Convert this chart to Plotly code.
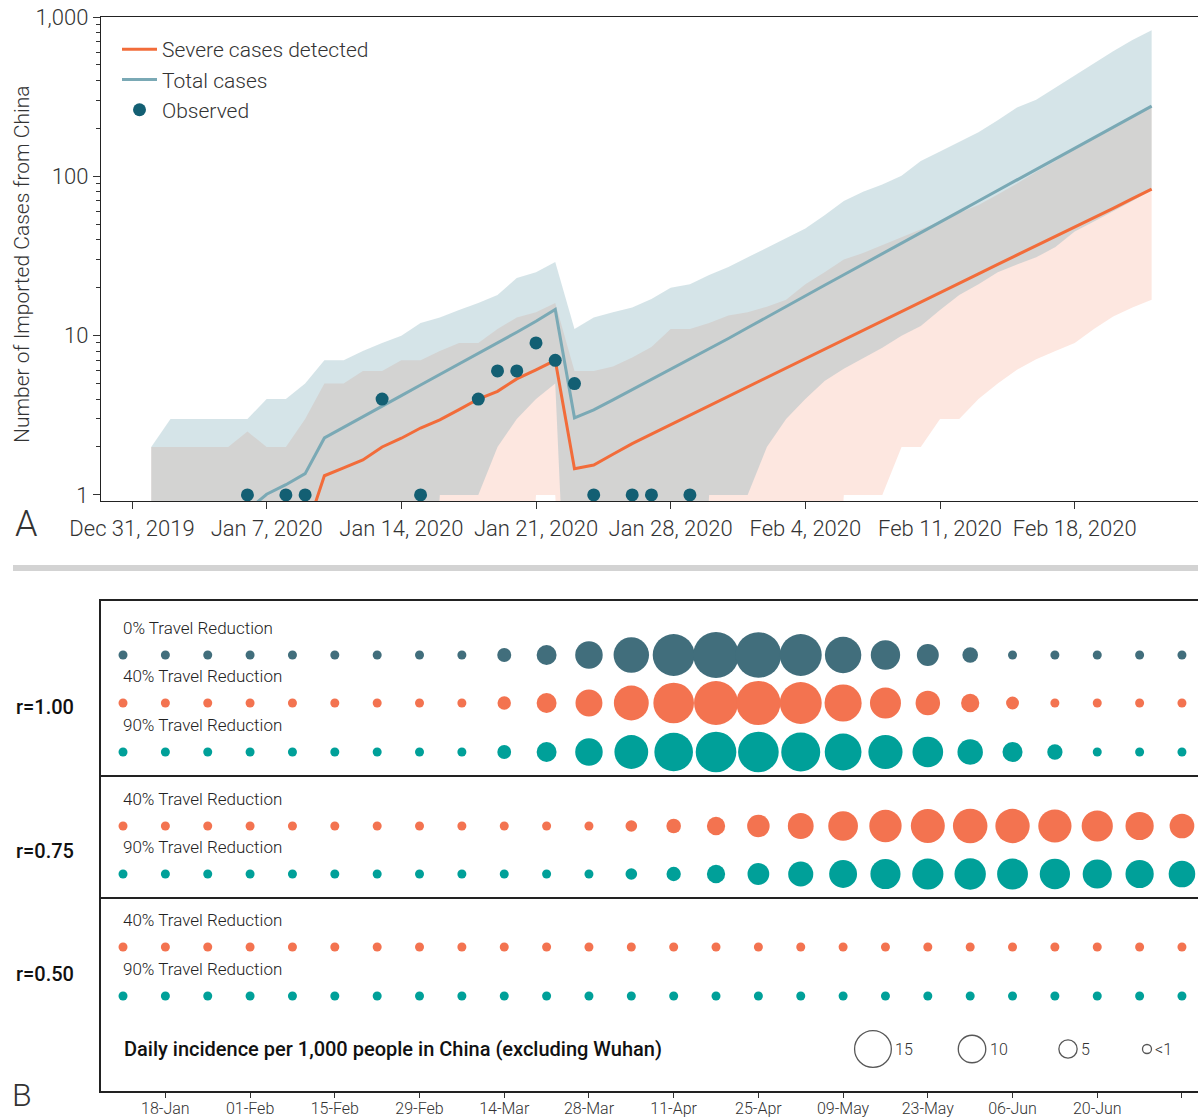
import pandas as pd
import plotly.graph_objects as go

W, H = 1198, 1118
FONT = "Roboto, Liberation Sans, Arial, sans-serif"

# ---------------- Panel A data (daily, Jan 1 .. Feb 22, 2020) ----------------
days_a = pd.date_range("2020-01-01", "2020-02-22", freq="D")

severe_mid = [None] * 8 + [0.57, 1.32, 1.48, 1.66, 2.0, 2.27, 2.63, 2.96, 3.43, 4.0, 4.47, 5.35, 6.1, 7.0,
                           1.46, 1.54, 1.8, 2.1, 2.41, 2.76, 3.16, 3.62, 4.15,
                           4.76, 5.45, 6.25, 7.16, 8.2, 9.4, 10.8, 12.4, 14.2, 16.2, 18.6, 21.3, 24.4,
                           28, 32, 36.7, 42, 48, 55, 63, 72.5, 83]
severe_lo = [0] * 20 + [1, 1] + [0] * 14 + [1, 1, 1, 2, 2, 3, 3, 4, 5, 6.1, 7.1, 8, 9, 11, 13.2, 15, 16.8]
severe_hi = [2, 2, 2, 2, 2, 2.5, 2, 2, 3, 5, 5, 6, 6, 7, 7, 8, 9, 9, 11, 13, 14, 16,
             6, 6, 6.4, 7.3, 8.5, 11, 11, 12, 13.4,
             14, 15.2, 16.8, 21, 25, 30, 33, 37, 41, 46, 52, 59, 66, 77, 90, 107, 125, 150, 175, 204, 237, 276]

total_mid = [None] * 5 + [0.8, 1.01, 1.16, 1.36, 2.28, 2.65, 3.1, 3.6, 4.2, 4.9, 5.7, 6.6, 7.7, 9.0, 10.5, 12.3, 14.6,
                          3.05, 3.42, 3.95, 4.58, 5.3, 6.1, 7.1, 8.3, 9.6,
                          11.2, 13.1, 15.2, 17.7, 20.7, 24.1, 28.0, 32.7, 38, 44.3, 51.6, 60, 70, 81.6,
                          95, 111, 129, 150, 175, 204, 237, 276]
total_lo = [0] * 15 + [1, 1, 1, 2, 3, 4, 5] + [0] * 7 + [1, 1] + \
           [1, 2, 3, 4, 5.2, 6.2, 7.2, 8.4, 10, 11.5, 14.5, 18, 21, 25, 28, 31, 36, 45, 52, 60, 70, 82]
total_hi = [2, 3, 3, 3, 3, 3, 4, 4, 5, 7, 7, 8, 9, 10, 12, 13, 14.5, 16, 18, 23, 25, 29,
            11, 13, 14, 15, 17, 20, 21, 24, 27,
            31, 36, 41, 47, 57, 70, 80, 89, 101, 125, 143, 165, 189, 225, 270, 302, 360, 430, 515, 610, 718, 826]

obs_dates = ["2020-01-06", "2020-01-08", "2020-01-09", "2020-01-13", "2020-01-15", "2020-01-18",
             "2020-01-19", "2020-01-20", "2020-01-21", "2020-01-22", "2020-01-23", "2020-01-24",
             "2020-01-26", "2020-01-27", "2020-01-29"]
obs_vals = [1, 1, 1, 4, 1, 4, 6, 6, 9, 7, 5, 1, 1, 1, 1]

a_ticks = ["2019-12-31", "2020-01-07", "2020-01-14", "2020-01-21", "2020-01-28",
           "2020-02-04", "2020-02-11", "2020-02-18"]
a_yticks = [1, 10, 100, 1000]
a_yticktext = ["1", "10", "100", "1,000"]

# ---------------- Panel B data (weekly, daily incidence per 1,000) ----------------
weeks_b = pd.date_range("2020-01-11", periods=26, freq="7D")

r100_0 = [0] * 9 + [2.7, 5.9, 10, 14.3, 17.8, 19.9, 19.8, 17.8, 14.8, 11, 7, 3.6] + [0] * 5
r100_40 = [0] * 9 + [2.4, 5.9, 9.7, 14, 17.1, 18.9, 19, 17.8, 15.2, 11.9, 8.4, 5, 2.1] + [0] * 4
r100_90 = [0] * 9 + [2.6, 5.9, 10, 13.4, 16, 17.1, 17.1, 16.2, 15, 13.6, 11.7, 8.9, 6, 3.4] + [0] * 3
r075_40 = [0] * 12 + [1.4, 3, 5, 7.3, 9.1, 11.2, 12.6, 13.5, 13.8, 13.7, 13.1, 12, 10.4, 8.5]
r075_90 = [0] * 12 + [1.4, 2.9, 5, 6.9, 8.7, 10.2, 11.4, 12, 12.1, 11.8, 11.5, 10.9, 10.4, 9.5]
r050_40 = [0] * 26
r050_90 = [0] * 26

size_legend_vals = [15, 10, 5, 0]
size_legend_text = ["15", "10", "5", "<1"]

C_SLATE = "#416e7c"
C_ORANGE = "#f37350"
C_TEAL = "#00a099"


def bubble_size(v):
    return 9 + 1.85 * v


def floor0(vals):
    return [None if v is None else (0.01 if v == 0 else v) for v in vals]


def py(y):
    return 1 - y / H


def pxx(x):
    return x / W


fig = go.Figure()

# bands: severe (peach) then total (blue)
fig.add_trace(go.Scatter(x=days_a, y=floor0(severe_lo), mode="lines", line=dict(width=0),
                         showlegend=False, hoverinfo="skip", xaxis="x", yaxis="y"))
fig.add_trace(go.Scatter(x=days_a, y=floor0(severe_hi), mode="lines", line=dict(width=0),
                         fill="tonexty", fillcolor="rgba(245,135,100,0.2)",
                         showlegend=False, hoverinfo="skip", xaxis="x", yaxis="y"))
fig.add_trace(go.Scatter(x=days_a, y=floor0(total_lo), mode="lines", line=dict(width=0),
                         showlegend=False, hoverinfo="skip", xaxis="x", yaxis="y"))
fig.add_trace(go.Scatter(x=days_a, y=floor0(total_hi), mode="lines", line=dict(width=0),
                         fill="tonexty", fillcolor="rgba(115,165,178,0.3)",
                         showlegend=False, hoverinfo="skip", xaxis="x", yaxis="y"))
# lines
fig.add_trace(go.Scatter(x=days_a, y=severe_mid, mode="lines", name="Severe cases detected",
                         line=dict(color="#f26c3a", width=3), xaxis="x", yaxis="y"))
fig.add_trace(go.Scatter(x=days_a, y=total_mid, mode="lines", name="Total cases",
                         line=dict(color="#7aa9b5", width=3), xaxis="x", yaxis="y"))
fig.add_trace(go.Scatter(x=obs_dates, y=obs_vals, mode="markers", name="Observed",
                         marker=dict(color="#135f73", size=13), xaxis="x", yaxis="y"))

# ---------------- Panel B ----------------
rows = [
    (r100_0, C_SLATE, 54, "0% Travel Reduction"),
    (r100_40, C_ORANGE, 102, "40% Travel Reduction"),
    (r100_90, C_TEAL, 151, "90% Travel Reduction"),
    (r075_40, C_ORANGE, 225, "40% Travel Reduction"),
    (r075_90, C_TEAL, 273, "90% Travel Reduction"),
    (r050_40, C_ORANGE, 346, "40% Travel Reduction"),
    (r050_90, C_TEAL, 395, "90% Travel Reduction"),
]
annotations = []
for vals, col, yrow, label in rows:
    fig.add_trace(go.Scatter(x=weeks_b, y=[yrow] * len(vals), mode="markers",
                             marker=dict(color=col, size=[bubble_size(v) for v in vals],
                                         line=dict(width=0), opacity=1),
                             showlegend=False, xaxis="x2", yaxis="y2"))
    annotations.append(dict(text=label, x=pxx(121), xref="paper", xanchor="left",
                            y=yrow - 27, yref="y2", yanchor="middle", showarrow=False,
                            font=dict(family=FONT, size=17, color="#222222", weight=300)))

# size legend
LEG_X = [0.7037, 0.794, 0.8815, 0.9535]
LEG_Y = 448
fig.add_trace(go.Scatter(x=LEG_X, y=[LEG_Y] * 4, mode="markers",
                         marker=dict(color="rgba(255,255,255,0)",
                                     size=[bubble_size(v) for v in size_legend_vals],
                                     line=dict(color="#111111", width=1.3)),
                         showlegend=False, xaxis="x3", yaxis="y2"))
for lx, v, t in zip(LEG_X, size_legend_vals, size_legend_text):
    annotations.append(dict(text=t, x=lx, xref="x3", xanchor="left", xshift=bubble_size(v) / 2 + 2,
                            y=LEG_Y, yref="y2", yanchor="middle", showarrow=False,
                            font=dict(family=FONT, size=16, color="#333333", weight=300)))

annotations.append(dict(text="Daily incidence per 1,000 people in China (excluding Wuhan)",
                        x=pxx(122), xref="paper", xanchor="left", y=LEG_Y, yref="y2",
                        yanchor="middle", showarrow=False,
                        font=dict(family=FONT, size=20, color="#111111", weight=500)))

for txt, yy in [("r=1.00", 106), ("r=0.75", 250), ("r=0.50", 373)]:
    annotations.append(dict(text=txt, x=pxx(45), xref="paper", xanchor="center",
                            y=yy, yref="y2", yanchor="middle", showarrow=False,
                            font=dict(family=FONT, size=20, color="#111111", weight=500)))

# panel letters & y title
annotations.append(dict(text="A", x=pxx(26), y=py(524), xref="paper", yref="paper",
                        xanchor="center", yanchor="middle", showarrow=False,
                        font=dict(family=FONT, size=36, color="#333333", weight=300)))
annotations.append(dict(text="B", x=pxx(22), y=py(1116), xref="paper", yref="paper",
                        xanchor="center", yanchor="bottom", showarrow=False,
                        font=dict(family=FONT, size=32, color="#333333", weight=300)))
annotations.append(dict(text="Number of Imported Cases from China", x=pxx(22), y=py(265),
                        xref="paper", yref="paper", xanchor="center", yanchor="middle",
                        textangle=-90, showarrow=False,
                        font=dict(family=FONT, size=21, color="#333333", weight=300)))

shapes = [
    dict(type="line", xref="paper", yref="paper", x0=pxx(13), x1=1, y0=py(568), y1=py(568),
         line=dict(color="#d3d3d3", width=6)),
    dict(type="line", xref="x2 domain", yref="y2", x0=0, x1=1, y0=175, y1=175,
         line=dict(color="#222222", width=2)),
    dict(type="line", xref="x2 domain", yref="y2", x0=0, x1=1, y0=297, y1=297,
         line=dict(color="#222222", width=2)),
]

minor_vals = [m * 10 ** k for k in range(0, 3) for m in range(2, 10)]

fig.update_layout(
    width=W, height=H, margin=dict(l=0, r=0, t=0, b=0, autoexpand=False),
    paper_bgcolor="white", plot_bgcolor="white",
    font=dict(family=FONT, color="#333333"),
    showlegend=True,
    legend=dict(x=pxx(117), y=py(29), xanchor="left", yanchor="top", traceorder="normal",
                font=dict(family=FONT, size=21, color="#333333", weight=300),
                bgcolor="rgba(0,0,0,0)", itemwidth=35, tracegroupgap=0),
    xaxis=dict(domain=[pxx(101), 1], anchor="y", type="date", automargin=False,
               range=["2019-12-29 09:20", "2020-02-24 09:50"],
               tickmode="array", tickvals=a_ticks, tickformat="%b %-d, %Y", tickangle=0,
               ticks="outside", ticklen=7, tickcolor="#333333",
               showline=True, linecolor="#222222", linewidth=1.3, mirror=True,
               showgrid=False, zeroline=False,
               tickfont=dict(family=FONT, size=22, color="#333333", weight=300)),
    yaxis=dict(domain=[py(501), py(17)], anchor="x", type="log", range=[-0.038, 3.0],
               automargin=False,
               tickmode="array", tickvals=a_yticks, ticktext=a_yticktext,
               ticks="outside", ticklen=7, tickcolor="#333333",
               minor=dict(tickmode="array", tickvals=minor_vals, ticks="outside", ticklen=4,
                          tickcolor="#333333", showgrid=False),
               showline=True, linecolor="#222222", linewidth=1.3,
               showgrid=False, zeroline=False,
               tickfont=dict(family=FONT, size=22, color="#333333", weight=300)),
    xaxis2=dict(domain=[pxx(101), 1], anchor="y2", type="date", automargin=False,
                range=["2020-01-07 08:40", "2020-07-06 15:36"],
                tick0="2020-01-18", dtick=14 * 86400000, tickformat="%d-%b", tickangle=0,
                ticks="outside", ticklen=5, tickcolor="#333333", ticklabelstandoff=-3,
                showline=True, linecolor="#222222", linewidth=2, mirror=True,
                showgrid=False, zeroline=False,
                tickfont=dict(family=FONT, size=16, color="#333333", weight=300)),
    yaxis2=dict(domain=[py(1091), py(601)], anchor="x2", range=[490, 0], automargin=False,
                showticklabels=False, ticks="", showline=True, linecolor="#222222",
                linewidth=2, showgrid=False, zeroline=False),
    xaxis3=dict(overlaying="x2", anchor="y2", range=[0, 1], visible=False),
    annotations=annotations,
    shapes=shapes,
)

fig.write_html("out.html", config={"displayModeBar": False},
               post_script="document.body.style.margin='0';document.body.style.overflow='hidden';")
